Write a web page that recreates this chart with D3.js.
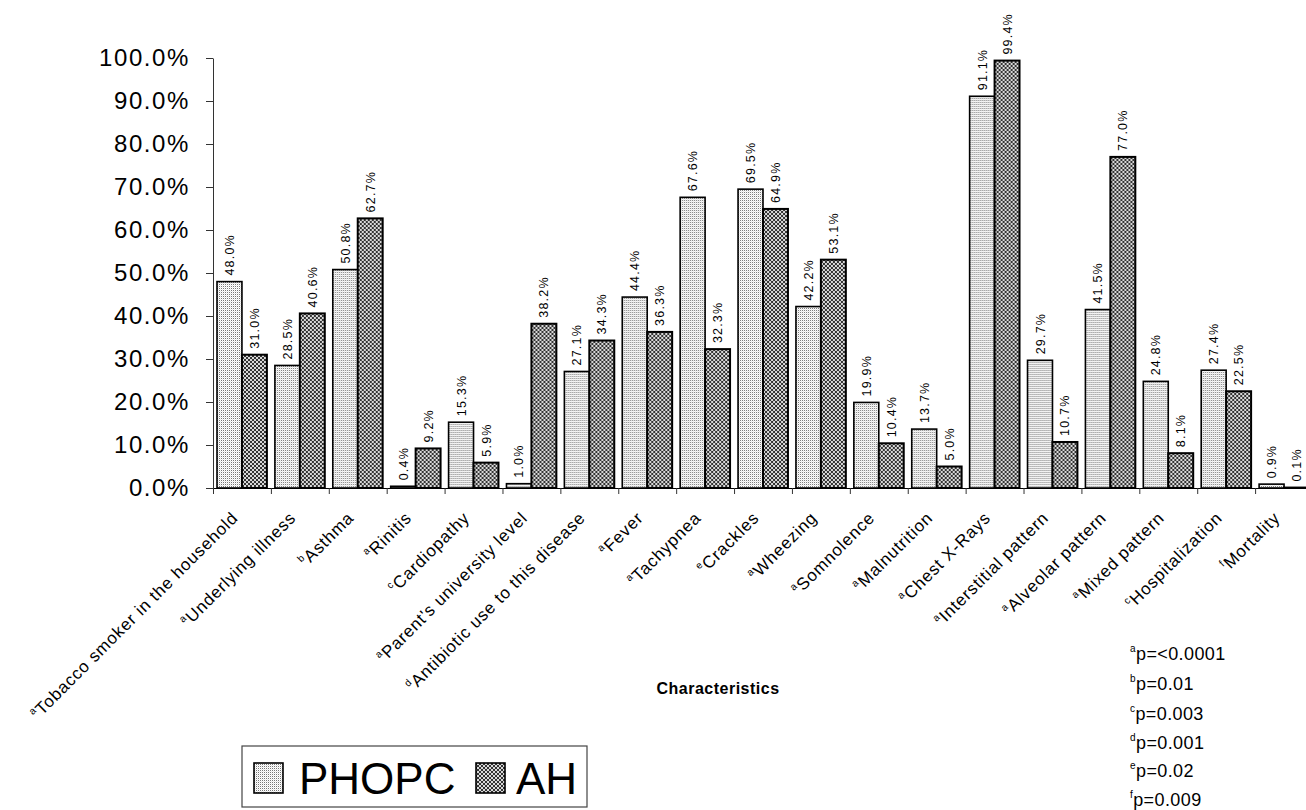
<!DOCTYPE html>
<html><head><meta charset="utf-8">
<script src="https://cdn.jsdelivr.net/npm/d3@7"></script>
<style>
body{margin:0;background:#fff}
svg{display:block}
text{font-family:"Liberation Sans",Arial,Helvetica,sans-serif;fill:#000}
</style>
</head><body>
<svg id="chart" width="1306" height="810"></svg>
<script>
// ---------------- data ----------------
const categories = ["Tobacco smoker in the household","Underlying illness","Asthma","Rinitis","Cardiopathy",
  "Parent's university level","Antibiotic use to this disease","Fever","Tachypnea","Crackles","Wheezing",
  "Somnolence","Malnutrition","Chest X-Rays","Interstitial pattern","Alveolar pattern","Mixed pattern",
  "Hospitalization","Mortality"];
const superscripts = ["a","a","b","a","c","a","d","a","a","e","a","a","a","a","a","a","a","c","f"];
const seriesNames = ["PHOPC","AH"];
const phopcValues = [48.0,28.5,50.8,0.4,15.3,1.0,27.1,44.4,67.6,69.5,42.2,19.9,13.7,91.1,29.7,41.5,24.8,27.4,0.9];
const ahValues    = [31.0,40.6,62.7,9.2,5.9,38.2,34.3,36.3,32.3,64.9,53.1,10.4,5.0,99.4,10.7,77.0,8.1,22.5,0.1];
const yTickValues = [0,10,20,30,40,50,60,70,80,90,100];
const pNoteLetters = ["a","b","c","d","e","f"];
const pNoteTexts = ["p=<0.0001","p=0.01","p=0.003","p=0.001","p=0.02","p=0.009"];
const xAxisTitle = "Characteristics";

// ---------------- setup ----------------
const svg = d3.select("#chart");
svg.append("rect").attr("width",1306).attr("height",810).attr("fill","#fff");

const defs = svg.append("defs");
// light stipple for PHOPC
const pDots = defs.append("pattern").attr("id","pat-PHOPC").attr("patternUnits","userSpaceOnUse")
  .attr("width",2).attr("height",2);
pDots.append("rect").attr("width",2).attr("height",2).attr("fill","#ffffff");
pDots.append("rect").attr("x",0).attr("y",0).attr("width",1).attr("height",1).attr("fill","#777");
pDots.append("rect").attr("x",1).attr("y",1).attr("width",1).attr("height",1).attr("fill","#e6e6e6");
// dark crosshatch for AH
const pHatch = defs.append("pattern").attr("id","pat-AH").attr("patternUnits","userSpaceOnUse")
  .attr("width",4).attr("height",4);
pHatch.append("rect").attr("width",4).attr("height",4).attr("fill","#d8d8d8");
[[0,0],[1,1],[2,2],[3,3],[0,3],[1,2],[2,1],[3,0]].forEach(([i,j])=>{
  pHatch.append("rect").attr("x",i).attr("y",j).attr("width",1).attr("height",1).attr("fill","#333");
});

const x0 = d3.scaleBand().domain(categories).range([213,1313]).paddingInner(0).paddingOuter(0);
const x1 = d3.scaleBand().domain(seriesNames).range([4, x0.bandwidth()-4]).padding(0);
const y = d3.scaleLinear().domain([0,100]).range([488,58]);
const xIdx = d3.scaleLinear().domain([0,categories.length]).range([213,1313]);

const rows = categories.map((c,i)=>({cat:c, sup:superscripts[i], values:[
  {s:"PHOPC", v:phopcValues[i]}, {s:"AH", v:ahValues[i]}]}));

// ---------------- bars ----------------
const groups = svg.append("g").selectAll("g").data(rows).join("g")
  .attr("transform", d=>`translate(${x0(d.cat)},0)`);

groups.selectAll("rect").data(d=>d.values).join("rect")
  .attr("x", d=>x1(d.s))
  .attr("y", d=>y(d.v))
  .attr("width", x1.bandwidth())
  .attr("height", d=>y(0)-y(d.v))
  .attr("fill", d=>`url(#pat-${d.s})`)
  .attr("stroke","#000")
  .attr("stroke-width", d=>d.s==="AH"?2:1.6);

groups.selectAll("text.val").data(d=>d.values).join("text")
  .attr("class","val")
  .attr("transform", d=>`translate(${x1(d.s)+x1.bandwidth()/2},${y(d.v)-6}) rotate(-90)`)
  .attr("dy","0.36em")
  .attr("text-anchor","start")
  .style("font-size","12.5px")
  .style("letter-spacing","1.2px")
  .text(d=>d.v.toFixed(1)+"%");

// ---------------- axes ----------------
const yAxis = d3.axisLeft(y).tickValues(yTickValues).tickSize(7).tickSizeOuter(0).tickPadding(16)
  .tickFormat(d=>d.toFixed(1)+"%");
const gy = svg.append("g").attr("transform","translate(213,0)").call(yAxis);
gy.select(".domain").attr("stroke","#333").attr("stroke-width",1);
gy.selectAll(".tick line").attr("stroke","#333");
gy.selectAll(".tick text").style("font-size","24px").style("letter-spacing","1.6px")
  .style("font-family","'Liberation Sans',Arial,sans-serif").attr("fill","#000");

const xAxis = d3.axisBottom(xIdx).tickValues(d3.range(categories.length+1)).tickSize(6).tickSizeOuter(0)
  .tickFormat("");
const gx = svg.append("g").attr("transform","translate(0,488)").call(xAxis);
gx.select(".domain").attr("stroke","#000").attr("stroke-width",1.2);
gx.selectAll(".tick line").attr("stroke","#333");

// category labels
const catLabels = svg.append("g").selectAll("text").data(rows).join("text")
  .attr("transform", d=>`translate(${x0(d.cat)+x0.bandwidth()/2-3},519) rotate(-45)`)
  .attr("text-anchor","end")
  .style("font-size","17px")
  .style("letter-spacing","0.8px");
catLabels.append("tspan").style("font-size","10px").attr("dy","-7").text(d=>d.sup);
catLabels.append("tspan").attr("dy","7").text(d=>d.cat);

// axis title
svg.append("text").attr("x",718).attr("y",694).attr("text-anchor","middle")
  .style("font-size","16px").style("font-weight","bold").style("letter-spacing","0.5px")
  .text(xAxisTitle);

// ---------------- legend ----------------
const legend = svg.append("g");
legend.append("rect").attr("x",242).attr("y",746).attr("width",345).attr("height",61)
  .attr("fill","#fff").attr("stroke","#444").attr("stroke-width",1.2);
const legendX = {PHOPC:[254,299], AH:[476,516]};
seriesNames.forEach(s=>{
  legend.append("rect").attr("x",legendX[s][0]).attr("y",763).attr("width",29).attr("height",30)
    .attr("fill",`url(#pat-${s})`).attr("stroke","#000").attr("stroke-width",1.6);
  legend.append("text").attr("x",legendX[s][1]).attr("y",794)
    .style("font-size","44px").text(s);
});

// ---------------- p-value notes ----------------
const pBase = [660,690,720,749,777,806];
const notes = svg.append("g").selectAll("text").data(pNoteLetters).join("text")
  .attr("x",1130).attr("y",(d,i)=>pBase[i]).style("font-size","18px").style("letter-spacing","0.4px");
notes.append("tspan").style("font-size","10px").attr("dy","-8").text(d=>d);
notes.append("tspan").attr("dy","8").text((d,i)=>pNoteTexts[i]);
</script>
</body></html>
